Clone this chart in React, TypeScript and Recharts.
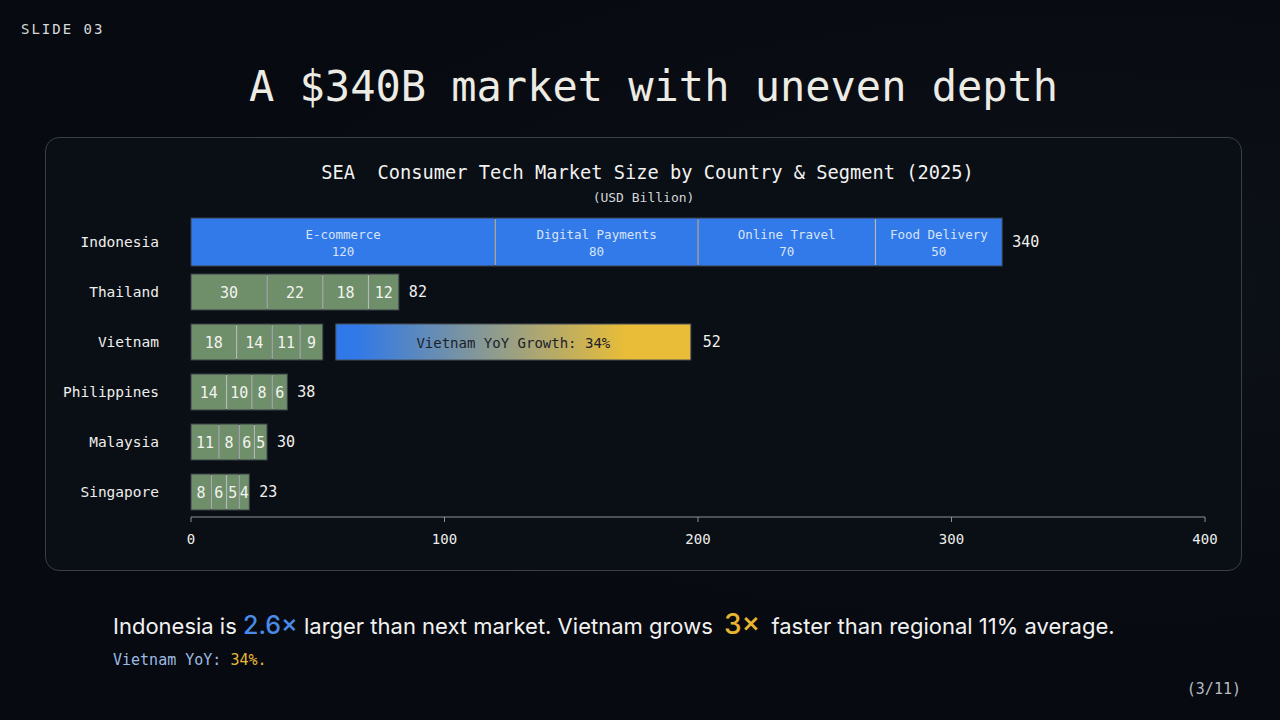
import { BarChart, Bar, XAxis, YAxis, Cell, LabelList } from 'recharts';

// Market size by country, USD billion, split into four consumer segments
const countries = ['Indonesia', 'Thailand', 'Vietnam', 'Philippines', 'Malaysia', 'Singapore'];
const segmentNames = ['E-commerce', 'Digital Payments', 'Online Travel', 'Food Delivery'];
const ecommerce = [120, 30, 18, 14, 11, 8];
const digitalPayments = [80, 22, 14, 10, 8, 6];
const onlineTravel = [70, 18, 11, 8, 6, 5];
const foodDelivery = [50, 12, 9, 6, 5, 4];
const totals = [340, 82, 52, 38, 30, 23];
const xTicks = [0, 100, 200, 300, 400];

const leadCountry = 'Indonesia';
const growthCountry = 'Vietnam';
const growthLabel = 'Vietnam YoY Growth: 34%';

const segmentKeys = ['ecommerce', 'digitalPayments', 'onlineTravel', 'foodDelivery'];

const rows = countries.map((country, i) => ({
  country,
  ecommerce: ecommerce[i],
  digitalPayments: digitalPayments[i],
  onlineTravel: onlineTravel[i],
  foodDelivery: foodDelivery[i],
  total: totals[i],
}));

const MONO = '"DejaVu Sans Mono", "Liberation Mono", monospace';
const SANS = 'Inter, "Noto Sans", sans-serif';
const BLUE = '#327ae9';
const GREEN = '#6f8f6b';
const LEAD_GROW = 6;

const box = (props: any) => {
  const vb = props.viewBox && props.viewBox.width !== undefined ? props.viewBox : props;
  return { x: Number(vb.x), y: Number(vb.y), width: Number(vb.width), height: Number(vb.height) };
};

// Stacked segment: lead row drawn a bit taller, light divider on the left edge of inner segments
const makeSegment = (seg: number) => (props: any) => {
  const { x, y, width, height, payload, fill } = props;
  if (!width || width <= 0) return <g />;
  const grow = payload && payload.country === leadCountry ? LEAD_GROW : 0;
  const top = y - grow;
  const h = height + grow * 2;
  return (
    <g>
      <rect x={x} y={top} width={width} height={h} fill={fill} stroke="#3b414a" strokeWidth={1} />
      {seg > 0 && (
        <line x1={x} x2={x} y1={top + 1} y2={top + h - 1} stroke="rgba(232,238,230,0.7)" strokeWidth={1.2} />
      )}
    </g>
  );
};

const makeSegmentLabel = (seg: number) => (props: any) => {
  const { x, y, width, height } = box(props);
  const index = props.index;
  const cx = x + width / 2;
  const cy = y + height / 2;
  if (countries[index] === leadCountry) {
    return (
      <g fontFamily={MONO} fontSize={12.5} fill="#d8e4f8" textAnchor="middle">
        <text x={cx} y={cy - 8} dominantBaseline="central">{segmentNames[seg]}</text>
        <text x={cx} y={cy + 9} dominantBaseline="central">{props.value}</text>
      </g>
    );
  }
  return (
    <text x={cx} y={cy + 1} textAnchor="middle" dominantBaseline="central" fontFamily={MONO} fontSize={15} fill="#f3f4ef">
      {props.value}
    </text>
  );
};

// Row total after the bar; the growth row gets a gradient callout before its total
const TotalLabel = (props: any) => {
  const { x, y, width, height } = box(props);
  const index = props.index;
  const end = x + width;
  const cy = y + height / 2;
  const textProps = { fontFamily: MONO, fontSize: 15, fill: '#f1f1ee', dominantBaseline: 'central' as const };
  if (countries[index] === growthCountry) {
    const gx = end + 13;
    const gw = 355;
    return (
      <g>
        <defs>
          <linearGradient id="growthFill" x1="0" y1="0" x2="1" y2="0">
            <stop offset="0" stopColor="#2f78ea" />
            <stop offset="0.06" stopColor="#3179e7" />
            <stop offset="0.82" stopColor="#e9bd37" />
            <stop offset="1" stopColor="#e9bd37" />
          </linearGradient>
        </defs>
        <rect x={gx} y={y} width={gw} height={height} fill="url(#growthFill)" stroke="#4a4f57" strokeWidth={1} />
        <text x={gx + gw / 2} y={cy + 1} textAnchor="middle" fontFamily={MONO} fontSize={14} fill="#1c212b" dominantBaseline="central">
          {growthLabel}
        </text>
        <text x={gx + gw + 12} y={cy} {...textProps}>{totals[index]}</text>
      </g>
    );
  }
  return <text x={end + 10} y={cy} {...textProps}>{totals[index]}</text>;
};

export default function App() {
  return (
    <div
      style={{
        position: 'absolute',
        left: 0,
        top: 0,
        width: 1280,
        height: 720,
        overflow: 'hidden',
        background: 'radial-gradient(ellipse at 85% 40%, #0d1118 0%, #070a10 60%)',
        fontFamily: MONO,
      }}
    >
      <div style={{ position: 'absolute', left: 21, top: 21, fontSize: 14, letterSpacing: 2, color: '#d8dadc' }}>
        SLIDE 03
      </div>
      <div style={{ position: 'absolute', left: 249, top: 62, fontSize: 42, color: '#ecebe4', whiteSpace: 'pre' }}>
        A $340B market with uneven depth
      </div>

      <div
        style={{
          position: 'absolute',
          left: 45,
          top: 137,
          width: 1197,
          height: 434,
          boxSizing: 'border-box',
          border: '1px solid #3a3e46',
          borderRadius: 14,
          background: '#0a0e15',
        }}
      />
      <div style={{ position: 'absolute', left: 49, width: 1197, top: 162, textAlign: 'center', fontSize: 18.7, color: '#f2f2f0', whiteSpace: 'pre' }}>
        SEA  Consumer Tech Market Size by Country &amp; Segment (2025)
      </div>
      <div style={{ position: 'absolute', left: 45, width: 1197, top: 190, textAlign: 'center', fontSize: 13, color: '#d4d6d8' }}>
        (USD Billion)
      </div>

      <div style={{ position: 'absolute', left: 45, top: 137 }}>
        <BarChart
          width={1197}
          height={434}
          data={rows}
          layout="vertical"
          margin={{ top: 80, right: 37, bottom: 24, left: 0 }}
        >
          <XAxis
            type="number"
            domain={[0, 400]}
            ticks={xTicks}
            axisLine={{ stroke: '#8d9299' }}
            tickLine={{ stroke: '#8d9299' }}
            tickSize={5}
            tickMargin={12}
            height={30}
            tick={{ fill: '#eeeeec', fontSize: 14, fontFamily: MONO }}
          />
          <YAxis
            type="category"
            dataKey="country"
            width={146}
            axisLine={false}
            tickLine={false}
            tickSize={0}
            tickMargin={32}
            tick={{ fill: '#eeeeec', fontSize: 14.5, fontFamily: MONO }}
          />
          {segmentKeys.map((key, seg) => (
            <Bar
              key={key}
              dataKey={key}
              name={segmentNames[seg]}
              stackId="market"
              barSize={36}
              isAnimationActive={false}
              shape={makeSegment(seg)}
            >
              {rows.map((r) => (
                <Cell key={r.country} fill={r.country === leadCountry ? BLUE : GREEN} />
              ))}
              <LabelList dataKey={key} content={makeSegmentLabel(seg)} />
              {seg === segmentKeys.length - 1 && <LabelList dataKey="total" content={TotalLabel} />}
            </Bar>
          ))}
        </BarChart>
      </div>

      <div style={{ position: 'absolute', left: 113, top: 607, fontFamily: SANS, fontSize: 22, color: '#f1f1f1', whiteSpace: 'pre' }}>
        Indonesia is <span style={{ color: '#4a8be8', fontSize: 25, fontWeight: 500 }}>2.6×</span> larger than next market. Vietnam grows{' '}
        <span style={{ color: '#e8b531', fontSize: 28, fontWeight: 500, margin: '0 5px' }}>3×</span> faster than regional 11% average.
      </div>
      <div style={{ position: 'absolute', left: 113, top: 651, fontSize: 15, color: '#9dbae2' }}>
        Vietnam YoY: <span style={{ color: '#e8b93a' }}>34%.</span>
      </div>
      <div style={{ position: 'absolute', right: 39, top: 680, fontSize: 15, color: '#b9bcc1' }}>
        (3/11)
      </div>
    </div>
  );
}
